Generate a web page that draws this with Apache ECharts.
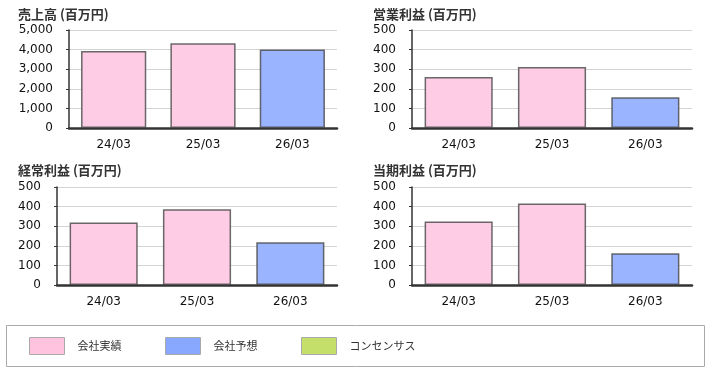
<!DOCTYPE html>
<html><head><meta charset="utf-8">
<script src="https://cdn.jsdelivr.net/npm/echarts@6/dist/echarts.min.js"></script>
<style>html,body{margin:0;padding:0;background:#fff}#c{width:711px;height:373px}</style>
</head><body><div id="c"></div>
<script>
var categories = ['24/03', '25/03', '26/03'];
var forecastFlags = [false, false, true];
var sales = [3930, 4320, 4000];
var operatingProfit = [260, 311, 157];
var ordinaryProfit = [319, 387, 218];
var netProfit = [324, 416, 162];
var titles = ['売上高 (百万円)', '営業利益 (百万円)', '経常利益 (百万円)', '当期利益 (百万円)'];
var yMax = [5000, 500, 500, 500];
var yStep = [1000, 100, 100, 100];
var legendNames = ['会社実績', '会社予想', 'コンセンサス'];

var panels = [sales, operatingProfit, ordinaryProfit, netProfit];
var grids = [
  {left: 69, right: 374, top: 30, height: 98},
  {left: 412, right: 19, top: 30, height: 98},
  {left: 57, right: 374, top: 187, height: 98},
  {left: 412, right: 19, top: 187, height: 98}
];
var titlePos = [[18, 17], [373, 17], [18, 173], [373, 173]];
var fillColors = ['#ffcce6', '#9ab4ff', '#c5e06a'];
var legendColors = ['#ffc2df', '#88a8ff', '#c5e06a'];

var xAxes = [], yAxes = [], series = [], graphics = [];
panels.forEach(function (vals, i) {
  xAxes.push({
    type: 'category', gridIndex: i, data: categories,
    axisLine: {lineStyle: {color: '#333', width: 2.5}},
    axisTick: {show: false},
    axisLabel: {margin: 11, fontSize: 12, fontFamily: 'DejaVu Sans', color: '#111'}
  });
  yAxes.push({
    type: 'value', gridIndex: i, min: 0, max: yMax[i], interval: yStep[i],
    axisLine: {show: true, lineStyle: {color: '#333', width: 1.5}},
    axisTick: {show: true, length: 3, lineStyle: {color: '#333'}},
    splitLine: {lineStyle: {color: '#d4d4d4', width: 1}},
    axisLabel: {margin: 16, fontSize: 12, fontFamily: 'DejaVu Sans', color: '#111',
      formatter: function (v) { return v.toLocaleString('en-US'); }}
  });
  var actual = vals.map(function (v, k) { return forecastFlags[k] ? '-' : v; });
  var forecast = vals.map(function (v, k) { return forecastFlags[k] ? v : '-'; });
  [actual, forecast, []].forEach(function (d, s) {
    series.push({
      type: 'bar', name: legendNames[s], xAxisIndex: i, yAxisIndex: i,
      data: d, barWidth: '73%', barGap: '-100%',
      itemStyle: {color: fillColors[s], borderColor: 'rgba(70,70,70,0.8)', borderWidth: 1.5},
      emphasis: {disabled: true}, animation: false
    });
  });
  graphics.push({
    type: 'text', left: titlePos[i][0], top: titlePos[i][1] - 9,
    style: {text: titles[i], font: 'bold 13px "Noto Sans CJK JP"', fill: '#333'}
  });
});
graphics.push({
  type: 'rect', shape: {x: 6.5, y: 325.5, width: 698, height: 41},
  style: {fill: 'none', stroke: '#aaa', lineWidth: 1}, z: -1
});

var legends = legendNames.map(function (n, s) {
  return {
    left: 29 + 136 * s, top: 337, padding: 0,
    itemWidth: 35, itemHeight: 17, icon: 'rect',
    selectedMode: false,
    data: [{name: n, itemStyle: {color: legendColors[s], borderColor: '#aaa', borderWidth: 1}}],
    textStyle: {fontSize: 11, fontFamily: 'Noto Sans CJK JP', color: '#333', padding: [0, 0, 0, 8]}
  };
});

var chart = echarts.init(document.getElementById('c'));
chart.setOption({
  animation: false,
  color: legendColors,
  grid: grids,
  xAxis: xAxes,
  yAxis: yAxes,
  series: series,
  graphic: graphics,
  legend: legends
});
</script></body></html>
